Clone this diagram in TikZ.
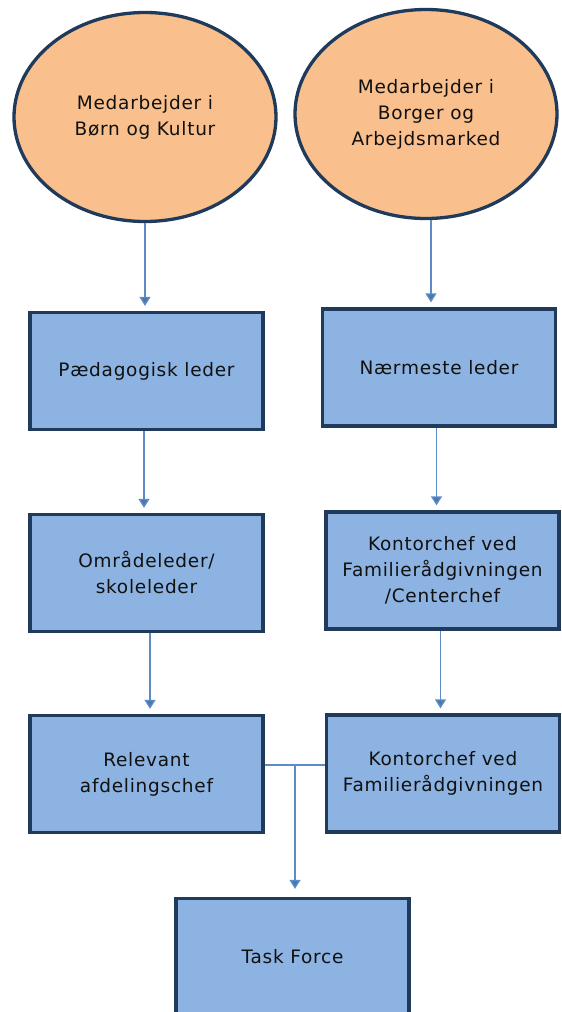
\documentclass[tikz,border=0pt]{standalone}
\usepackage{fontspec}
\newfontfamily\chartfont[LetterSpace=4]{DejaVu Sans}
\usepackage{tikz}
\usetikzlibrary{arrows.meta, shapes.geometric}

\definecolor{edgeblue}{HTML}{1F3A5A}
\definecolor{staffpeach}{HTML}{F9C08E}
\definecolor{leaderblue}{HTML}{8DB3E2}
\definecolor{linkblue}{HTML}{5B8CC8}
\definecolor{inkgrey}{HTML}{111111}

\begin{document}
\begin{tikzpicture}[
		x=1pt, y=-1pt,
		font=\chartfont\fontsize{18.5}{26}\selectfont,
		staff/.style ={
			ellipse,	draw=edgeblue,	fill=staffpeach,	text=inkgrey,
			line width=3.3pt,	align=center,	inner sep=0pt,
			minimum width=262pt,	minimum height=209pt
		},
		leader/.style ={
			rectangle,	draw=edgeblue,	fill=leaderblue,	text=inkgrey,
			line width=3.3pt,	align=center,	inner sep=0pt,
			minimum width=233pt,	minimum height=117pt
		},
		link/.style={
			draw=linkblue,	line width=1.3pt,
			-{Triangle[width=11pt,length=9pt,fill=linkblue!85!black]},
			shorten >=5pt
		},
		bar/.style={
			draw=linkblue,	line width=1.3pt
		},
	]

	\useasboundingbox (0,0) rectangle (562,1012);

	% nodes
	\node (medBK) at (145, 117) [staff] {Medarbejder i\\Børn og Kultur};
	\node (medBA) at (426, 114) [staff] {Medarbejder i\\Borger og\\Arbejdsmarked};

	\node (paed)  at (146.5, 371)   [leader] {Pædagogisk leder};
	\node (naer)  at (439, 367.5)   [leader] {Nærmeste leder};

	\node (omr)   at (146.5, 573)   [leader] {Områdeleder/\\skoleleder};
	\node (kontC) at (442.5, 570.5) [leader] {Kontorchef ved\\Familierådgivningen\\/Centerchef};

	\node (relev) at (146.5, 774)   [leader] {Relevant\\afdelingschef};
	\node (kontF) at (443, 773.5)   [leader] {Kontorchef ved\\Familierådgivningen};

	\node (task)  at (292.5, 957)   [leader] {Task Force};

	% interconnections
	\draw [link] (medBK.south) -- (medBK.south |- paed.north);
	\draw [link] ([xshift=5pt]medBA.south) -- ([xshift=5pt]medBA.south |- naer.north);

	\draw [link] ([xshift=-2.5pt]paed.south) -- ([xshift=-2.5pt]paed.south |- omr.north);
	\draw [link] ([xshift=-2.5pt]naer.south) -- ([xshift=-2.5pt]naer.south |- kontC.north);

	\draw [link] ([xshift=3.5pt]omr.south) -- ([xshift=3.5pt]omr.south |- relev.north);
	\draw [link] ([xshift=-2pt]kontC.south) -- ([xshift=-2pt]kontC.south |- kontF.north);

	% joining bar down to the task force
	\coordinate (join) at ([yshift=9pt]relev.east);
	\coordinate (drop) at ([xshift=2.5pt]task.north);
	\draw [bar] (join) -- (join -| kontF.west);
	\draw [link, shorten >=8pt] (drop |- join) -- (drop);

\end{tikzpicture}
\end{document}
